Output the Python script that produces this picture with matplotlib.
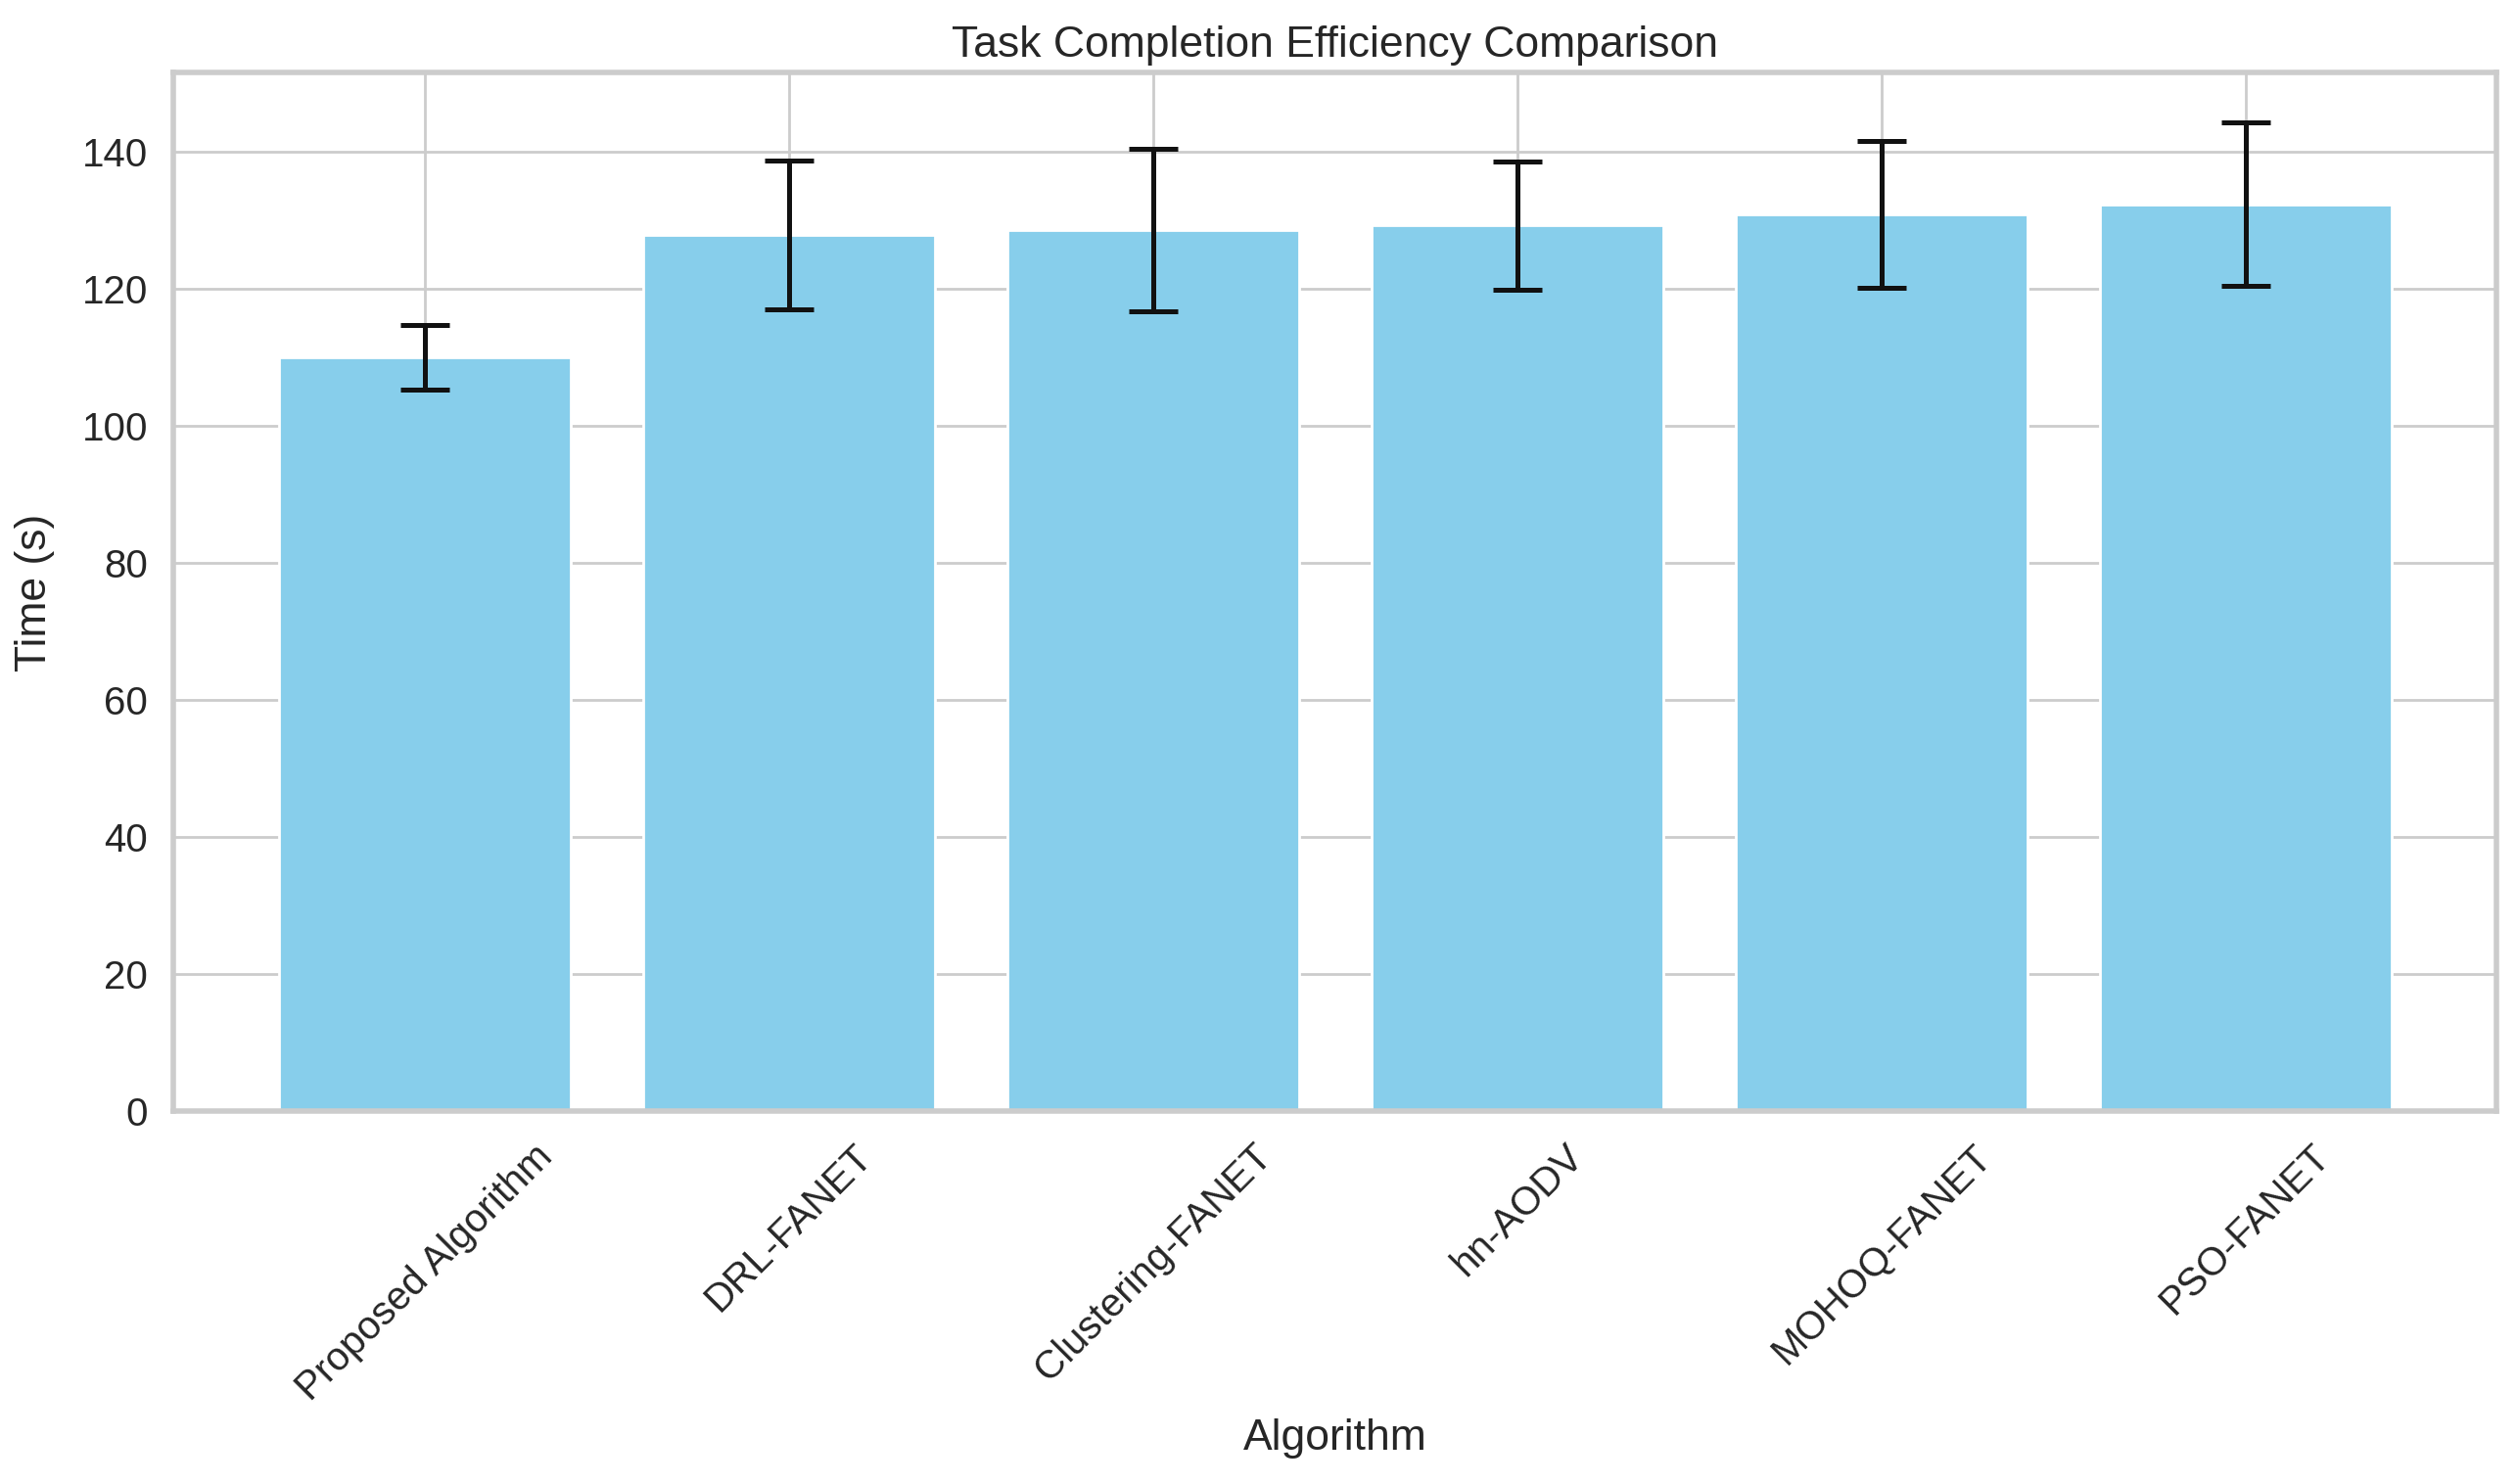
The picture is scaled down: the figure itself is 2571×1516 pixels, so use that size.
import numpy as np
import matplotlib
matplotlib.use('Agg')
import matplotlib.pyplot as plt
import seaborn as sns

# --- DATOS ---
algoritmos = ['Proposed Algorithm', 'DRL-FANET', 'Clustering-FANET',
              'hn-AODV', 'MOHOQ-FANET', 'PSO-FANET']
tiempo_medio = [110.0, 127.8, 128.5, 129.2, 130.8, 132.3]
tiempo_std = [4.7, 10.85, 11.8, 9.35, 10.65, 11.95]

sns.set_theme(style='whitegrid')
plt.rcParams['font.family'] = ['Liberation Sans', 'DejaVu Sans']

fig, ax = plt.subplots(figsize=(12.855, 7.58), dpi=200)
fig.subplots_adjust(left=0.069, right=0.992, top=0.951, bottom=0.251)

ax.bar(algoritmos, tiempo_medio, yerr=tiempo_std, capsize=9,
       color='skyblue', error_kw={'elinewidth': 1.8, 'capthick': 1.8, 'ecolor': '#111111'})

ax.set_title('Task Completion Efficiency Comparison', fontsize=16, color='#262626')
ax.set_xlabel('Algorithm', fontsize=16, color='#262626')
ax.set_ylabel('Time (s)', fontsize=16, color='#262626', labelpad=10)
ax.tick_params(axis='x', rotation=45, labelsize=14.5)
ax.tick_params(axis='y', labelsize=14.5)
for s in ax.spines.values():
    s.set_linewidth(2)

fig.savefig('out.png', dpi=200)
